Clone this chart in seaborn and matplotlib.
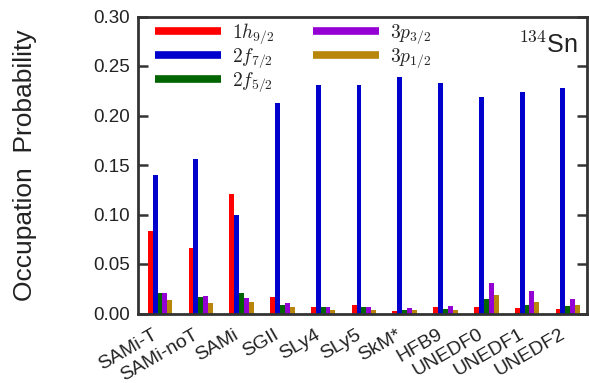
import matplotlib
matplotlib.use("Agg")
import matplotlib.pyplot as plt
import seaborn as sns
import pandas as pd
from matplotlib.lines import Line2D

models = ["SAMi-T", "SAMi-noT", "SAMi", "SGII", "SLy4", "SLy5", "SkM*", "HFB9",
          "UNEDF0", "UNEDF1", "UNEDF2"]
orbitals = [r"$1h_{9/2}$", r"$2f_{7/2}$", r"$2f_{5/2}$", r"$3p_{3/2}$", r"$3p_{1/2}$"]
h9_2 = [0.083, 0.066, 0.121, 0.017, 0.007, 0.009, 0.003, 0.007, 0.007, 0.006, 0.005]
f7_2 = [0.140, 0.156, 0.100, 0.213, 0.231, 0.231, 0.239, 0.233, 0.219, 0.224, 0.228]
f5_2 = [0.021, 0.017, 0.021, 0.009, 0.007, 0.007, 0.004, 0.005, 0.015, 0.009, 0.008]
p3_2 = [0.021, 0.018, 0.016, 0.011, 0.007, 0.007, 0.006, 0.008, 0.031, 0.023, 0.015]
p1_2 = [0.014, 0.011, 0.012, 0.007, 0.004, 0.004, 0.004, 0.004, 0.019, 0.012, 0.009]
colors = ["#ff0000", "#0000cd", "#006400", "#9400d3", "#b8860b"]

series = [h9_2, f7_2, f5_2, p3_2, p1_2]
rows = []
for orb, vals in zip(orbitals, series):
    for m, v in zip(models, vals):
        rows.append({"model": m, "orbital": orb, "prob": v})
df = pd.DataFrame(rows)

sns.set_style("ticks", {"xtick.direction": "in", "ytick.direction": "in"})
plt.rcParams["font.family"] = ["Liberation Sans", "DejaVu Sans"]
plt.rcParams["mathtext.fontset"] = "cm"

fig = plt.figure(figsize=(5.89, 3.83), dpi=100)
ax = fig.add_axes([138 / 589, 1 - 313.5 / 383, 449 / 589, 297 / 383])
sns.barplot(data=df, x="model", y="prob", hue="orbital", order=models,
            hue_order=orbitals, palette=colors, width=0.6, dodge=True,
            saturation=1, errorbar=None, ax=ax, legend=False, linewidth=0)

ax.set_ylim(0, 0.30)
ax.set_xlim(-0.54, 10.47)
ax.set_yticks([0, 0.05, 0.10, 0.15, 0.20, 0.25, 0.30])
ax.set_yticklabels(["0.00", "0.05", "0.10", "0.15", "0.20", "0.25", "0.30"])
ax.tick_params(axis="y", which="both", direction="in", length=7, width=1.8,
               labelsize=13.5, right=True, left=True, colors="#333333",
               labelcolor="#222222", pad=6)
ax.tick_params(axis="x", length=0, labelsize=14, labelcolor="#222222", pad=9)
plt.setp(ax.get_xticklabels(), rotation=30, ha="right")
ax.set_xlabel("")
ax.set_ylabel("Occupation  Probability", fontsize=19, color="#222222")
ax.yaxis.set_label_coords(-0.225, 0.5)
for s in ax.spines.values():
    s.set_visible(True)
    s.set_linewidth(2)
    s.set_color("#333333")

handles = [Line2D([0], [0], color=c, lw=5.5, solid_capstyle="butt") for c in colors]
leg = ax.legend(handles, orbitals, ncol=2, loc="upper left", frameon=False,
                fontsize=14, handlelength=3.4, handletextpad=0.55, columnspacing=2.0,
                labelspacing=0.0, borderaxespad=0.0, bbox_to_anchor=(0.02, 1.01))
ax.text(0.98, 0.905, r"$^{134}$Sn", transform=ax.transAxes, ha="right", va="center",
        fontsize=18, color="#222222")

fig.savefig("out.png", dpi=100)
